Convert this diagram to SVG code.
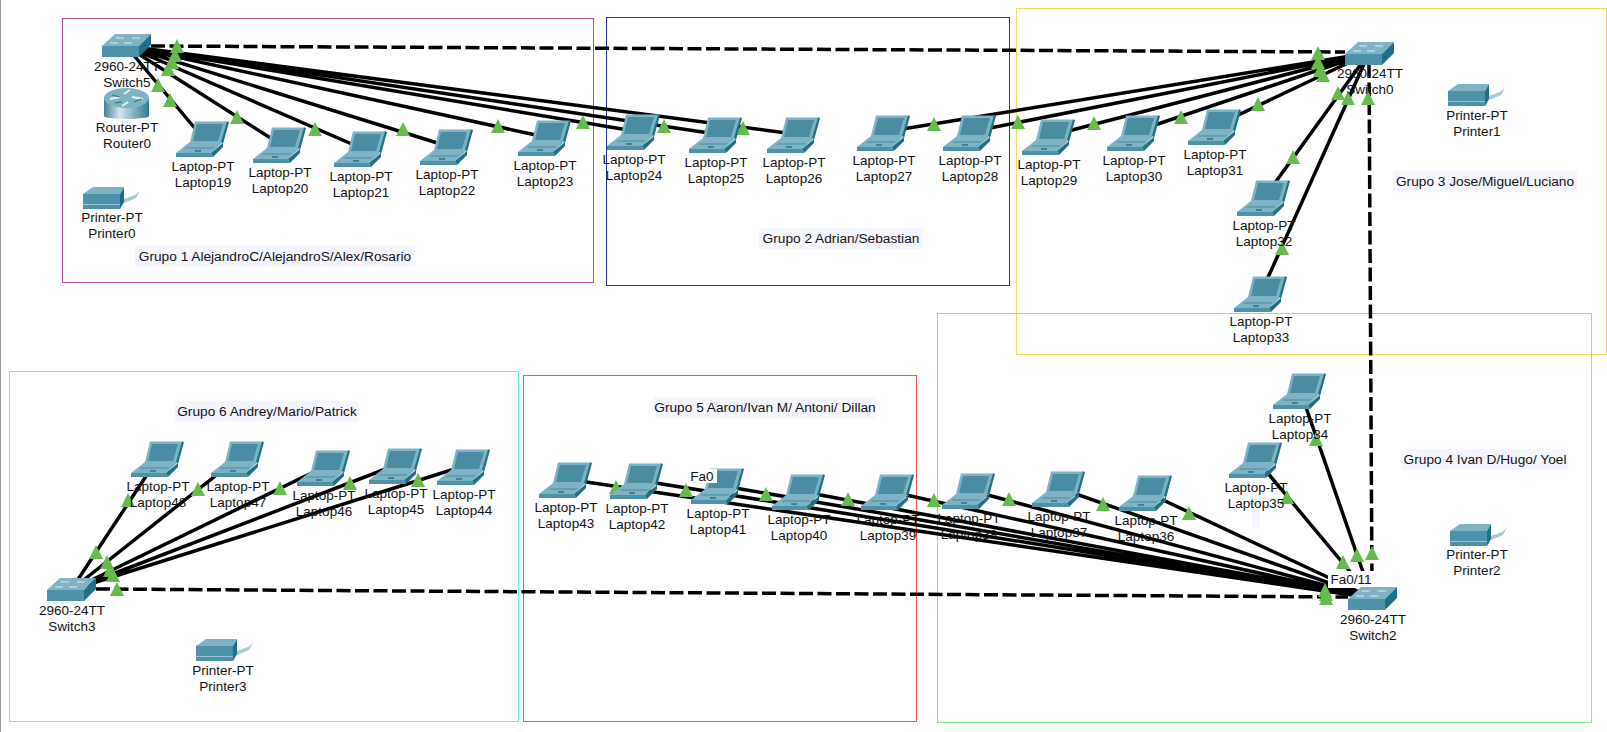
<svg xmlns="http://www.w3.org/2000/svg" width="1607" height="732" viewBox="0 0 1607 732">
<style>
text{font-family:"Liberation Sans",Arial,sans-serif;font-size:13.5px;fill:#111;text-anchor:middle}
.g{font-size:13.7px}
.box{fill:none;stroke-width:1}
.bg{fill:#f6f6ff}
.ln{stroke:#000;stroke-width:3.5;fill:none}
.ds{stroke:#000;stroke-width:3.5;fill:none;stroke-dasharray:14 4.500}
.w{fill:#fff}
</style>
<defs>
<linearGradient id="rg" x1="0" x2="1" y1="0" y2="0">
<stop offset="0" stop-color="#3f8097"/><stop offset=".35" stop-color="#d5e6ec"/><stop offset="1" stop-color="#2f7a92"/>
</linearGradient>
<polygon id="t" points="0,-7 7,7 -7,7" fill="#66bb4d"/>
<g id="laptop">
<polygon points="19,1.500 52,1.500 46,22 14,22" fill="#7fb2c2"/>
<polygon points="21,4 47,4 42,21 17,21" fill="#4a8ca3"/>
<polygon points="51,1.500 53,2 47,24 45,22" fill="#1f6f87"/>
<polygon points="14,22 47,22 35,33 0,33" fill="#7fb2c2"/>
<polygon points="0,33 35,33 37,37 0,37" fill="#4d92aa"/>
<polygon points="35,33 47,23 47,27 37,37" fill="#1f6f87"/>
<polygon points="11,27 39,27 37,29 9,29" fill="#5f9fb3"/>
<rect x="19" y="30" width="6" height="2" fill="#3f8097"/>
</g>
<g id="switch">
<polygon points="0,12 13,0 49,0 37,12" fill="#7fb2c2"/>
<rect x="0" y="12" width="37" height="11" fill="#4d92aa"/>
<polygon points="37,12 49,0 49,11 37,23" fill="#1f6f87"/>
<path d="M14,4h8M30,4h8M8,9h8M22,9h8" stroke="#dfeef2" stroke-width="1"/>
</g>
<g id="printer">
<polygon points="0,7 10,0 41,0 37,7" fill="#7fb2c2"/>
<rect x="0" y="7" width="37" height="15" fill="#4d92aa"/>
<rect x="0" y="17" width="37" height="1" fill="#9cc4d0"/>
<polygon points="37,7 41,0 41,15 37,22" fill="#1f6f87"/>
<polygon points="41,12 52,8 57,4 53,11 41,16" fill="#a9c8d2"/>
</g>
<g id="router">
<rect x="0" y="9" width="45" height="19" fill="url(#rg)"/>
<ellipse cx="22.500" cy="28" rx="22.500" ry="3" fill="url(#rg)"/>
<ellipse cx="22.500" cy="10" rx="22.500" ry="10" fill="#7fb2c2"/>
<path d="M6,11l10,-2M28,9l11,2M26,2l-6,4M24,14l-6,4" stroke="#e7f2f5" stroke-width="1.800"/>
<path d="M8,7l8,2M30,14l8,-3M18,14l-7,1" stroke="#2f6678" stroke-width="1"/>
</g>
</defs>
<rect width="1607" height="732" fill="#fff"/>
<rect x="0" y="0" width="1" height="732" fill="#999"/>

<g id="areas">
<rect class="box" x="62.500" y="18.500" width="531" height="264" stroke="#c04a9c"/>
<rect class="box" x="606.500" y="17.500" width="403" height="268" stroke="#2b30a6"/>
<rect class="box" x="1016.500" y="8.500" width="590" height="346" stroke="#f0dc60"/>
<rect class="box" x="937.500" y="313.500" width="654" height="409" stroke="#7cf27c"/>
<rect class="box" x="9.500" y="371.500" width="509" height="350" stroke="#66eeee"/>
<rect class="box" x="523.500" y="375.500" width="393" height="346" stroke="#ee5555"/>
<rect class="bg" x="1252" y="510" width="8" height="18"/>
</g>

<g id="connectors">
<path class="ln" d="M126,46L203,138M126,46L280,144M126,46L361,148M126,46L447,146M126,46L545,137M126,46L634,131M126,46L716,134M126,46L794,134"/>
<path class="ln" d="M1369,53L884,132M1369,53L970,132M1369,53L1049,136M1369,53L1134,132M1369,53L1215,126M1369,53L1264,198M1369,53L1261,293"/>
<path class="ln" d="M1372,598L1300,390M1372,598L1256,459M1372,598L1146,492M1372,598L1059,488M1372,598L969,490M1372,598L888,491M1372,598L799,491M1372,598L718,485M1372,598L637,480M1372,598L566,479"/>
<path class="ln" d="M71,590L158,458M71,590L238,458M71,590L324,467M71,590L396,465M71,590L464,466"/>
<path class="ds" d="M151,46L1345,52"/>
<path class="ds" d="M1369,64L1372,587"/>
<path class="ds" d="M96,589L1348,597"/>
<g id="link-lights">
<use href="#t" x="177" y="46"/><use href="#t" x="175" y="55"/><use href="#t" x="172" y="62"/><use href="#t" x="168" y="69"/><use href="#t" x="158" y="85"/><use href="#t" x="170" y="100"/><use href="#t" x="237" y="117"/><use href="#t" x="315" y="129"/><use href="#t" x="403" y="129"/><use href="#t" x="498" y="126"/><use href="#t" x="583" y="122"/><use href="#t" x="664" y="126"/><use href="#t" x="743" y="128"/>
<use href="#t" x="934" y="124"/><use href="#t" x="1018" y="122"/><use href="#t" x="1094" y="123"/><use href="#t" x="1181" y="117"/><use href="#t" x="1258" y="104"/><use href="#t" x="1293" y="157"/><use href="#t" x="1282" y="248"/><use href="#t" x="1318" y="53"/><use href="#t" x="1318" y="62"/><use href="#t" x="1320" y="70"/><use href="#t" x="1323" y="75"/><use href="#t" x="1338" y="93"/><use href="#t" x="1348" y="98"/><use href="#t" x="1368" y="98"/>
<use href="#t" x="128" y="500"/><use href="#t" x="198" y="489"/><use href="#t" x="280" y="488"/><use href="#t" x="350" y="483"/><use href="#t" x="418" y="480"/><use href="#t" x="96" y="552"/><use href="#t" x="107" y="562"/><use href="#t" x="110" y="570"/><use href="#t" x="113" y="575"/><use href="#t" x="117" y="589"/>
<use href="#t" x="616" y="487"/><use href="#t" x="686" y="490"/><use href="#t" x="766" y="494"/><use href="#t" x="848" y="499"/><use href="#t" x="934" y="500"/><use href="#t" x="1009" y="499"/><use href="#t" x="1103" y="504"/><use href="#t" x="1189" y="513"/><use href="#t" x="1316" y="439"/><use href="#t" x="1287" y="497"/><use href="#t" x="1343" y="562"/><use href="#t" x="1357" y="555"/><use href="#t" x="1372" y="553"/><use href="#t" x="1325" y="590"/><use href="#t" x="1326" y="594"/><use href="#t" x="1326" y="598"/>
</g>
</g>

<g id="port-labels">
<rect class="w" x="1328" y="571" width="50" height="17"/><text x="1351" y="584">Fa0/11</text>
</g>

<g id="Switch5" transform="translate(102,34)"><use href="#switch"/><text x="25" y="37">2960-24TT</text><text x="25" y="53">Switch5</text></g>
<g id="Switch0" transform="translate(1345,42)"><use href="#switch"/><text x="25" y="36">2960-24TT</text><text x="25" y="52">Switch0</text></g>
<g id="Switch2" transform="translate(1348,587)"><use href="#switch"/><text x="25" y="37">2960-24TT</text><text x="25" y="53">Switch2</text></g>
<g id="Switch3" transform="translate(47,578)"><use href="#switch"/><text x="25" y="37">2960-24TT</text><text x="25" y="53">Switch3</text></g>
<g id="Router0" transform="translate(104,88)"><use href="#router"/><text x="23" y="44">Router-PT</text><text x="23" y="60">Router0</text></g>
<g id="Printer0" transform="translate(83,187)"><use href="#printer"/><text x="29" y="35">Printer-PT</text><text x="29" y="51">Printer0</text></g>
<g id="Printer1" transform="translate(1448,84)"><use href="#printer"/><text x="29" y="36">Printer-PT</text><text x="29" y="52">Printer1</text></g>
<g id="Printer2" transform="translate(1450,524)"><use href="#printer"/><text x="27" y="35">Printer-PT</text><text x="27" y="51">Printer2</text></g>
<g id="Printer3" transform="translate(196,639)"><use href="#printer"/><text x="27" y="36">Printer-PT</text><text x="27" y="52">Printer3</text></g>

<g id="Laptop19" transform="translate(176,120)"><use href="#laptop"/><text x="27" y="51">Laptop-PT</text><text x="27" y="67">Laptop19</text></g>
<g id="Laptop20" transform="translate(253,126)"><use href="#laptop"/><text x="27" y="51">Laptop-PT</text><text x="27" y="67">Laptop20</text></g>
<g id="Laptop21" transform="translate(334,130)"><use href="#laptop"/><text x="27" y="51">Laptop-PT</text><text x="27" y="67">Laptop21</text></g>
<g id="Laptop22" transform="translate(420,128)"><use href="#laptop"/><text x="27" y="51">Laptop-PT</text><text x="27" y="67">Laptop22</text></g>
<g id="Laptop23" transform="translate(518,119)"><use href="#laptop"/><text x="27" y="51">Laptop-PT</text><text x="27" y="67">Laptop23</text></g>
<g id="Laptop24" transform="translate(607,113)"><use href="#laptop"/><text x="27" y="51">Laptop-PT</text><text x="27" y="67">Laptop24</text></g>
<g id="Laptop25" transform="translate(689,116)"><use href="#laptop"/><text x="27" y="51">Laptop-PT</text><text x="27" y="67">Laptop25</text></g>
<g id="Laptop26" transform="translate(767,116)"><use href="#laptop"/><text x="27" y="51">Laptop-PT</text><text x="27" y="67">Laptop26</text></g>
<g id="Laptop27" transform="translate(857,114)"><use href="#laptop"/><text x="27" y="51">Laptop-PT</text><text x="27" y="67">Laptop27</text></g>
<g id="Laptop28" transform="translate(943,114)"><use href="#laptop"/><text x="27" y="51">Laptop-PT</text><text x="27" y="67">Laptop28</text></g>
<g id="Laptop29" transform="translate(1022,118)"><use href="#laptop"/><text x="27" y="51">Laptop-PT</text><text x="27" y="67">Laptop29</text></g>
<g id="Laptop30" transform="translate(1107,114)"><use href="#laptop"/><text x="27" y="51">Laptop-PT</text><text x="27" y="67">Laptop30</text></g>
<g id="Laptop31" transform="translate(1188,108)"><use href="#laptop"/><text x="27" y="51">Laptop-PT</text><text x="27" y="67">Laptop31</text></g>
<g id="Laptop32" transform="translate(1237,179)"><use href="#laptop"/><text x="27" y="51">Laptop-PT</text><text x="27" y="67">Laptop32</text></g>
<g id="Laptop33" transform="translate(1234,275)"><use href="#laptop"/><text x="27" y="51">Laptop-PT</text><text x="27" y="67">Laptop33</text></g>
<g id="Laptop34" transform="translate(1273,372)"><use href="#laptop"/><text x="27" y="51">Laptop-PT</text><text x="27" y="67">Laptop34</text></g>
<g id="Laptop35" transform="translate(1229,441)"><use href="#laptop"/><text x="27" y="51">Laptop-PT</text><text x="27" y="67">Laptop35</text></g>
<g id="Laptop36" transform="translate(1119,474)"><use href="#laptop"/><text x="27" y="51">Laptop-PT</text><text x="27" y="67">Laptop36</text></g>
<g id="Laptop37" transform="translate(1032,470)"><use href="#laptop"/><text x="27" y="51">Laptop-PT</text><text x="27" y="67">Laptop37</text></g>
<g id="Laptop38" transform="translate(942,472)"><use href="#laptop"/><text x="27" y="51">Laptop-PT</text><text x="27" y="67">Laptop38</text></g>
<g id="Laptop39" transform="translate(861,473)"><use href="#laptop"/><text x="27" y="51">Laptop-PT</text><text x="27" y="67">Laptop39</text></g>
<g id="Laptop40" transform="translate(772,473)"><use href="#laptop"/><text x="27" y="51">Laptop-PT</text><text x="27" y="67">Laptop40</text></g>
<g id="Laptop41" transform="translate(691,467)"><use href="#laptop"/><text x="27" y="51">Laptop-PT</text><text x="27" y="67">Laptop41</text></g>
<g id="Laptop42" transform="translate(610,462)"><use href="#laptop"/><text x="27" y="51">Laptop-PT</text><text x="27" y="67">Laptop42</text></g>
<g id="Laptop43" transform="translate(539,461)"><use href="#laptop"/><text x="27" y="51">Laptop-PT</text><text x="27" y="67">Laptop43</text></g>
<g id="Laptop44" transform="translate(437,448)"><use href="#laptop"/><text x="27" y="51">Laptop-PT</text><text x="27" y="67">Laptop44</text></g>
<g id="Laptop45" transform="translate(369,447)"><use href="#laptop"/><text x="27" y="51">Laptop-PT</text><text x="27" y="67">Laptop45</text></g>
<g id="Laptop46" transform="translate(297,449)"><use href="#laptop"/><text x="27" y="51">Laptop-PT</text><text x="27" y="67">Laptop46</text></g>
<g id="Laptop47" transform="translate(211,440)"><use href="#laptop"/><text x="27" y="51">Laptop-PT</text><text x="27" y="67">Laptop47</text></g>
<g id="Laptop48" transform="translate(131,440)"><use href="#laptop"/><text x="27" y="51">Laptop-PT</text><text x="27" y="67">Laptop48</text></g>

<g id="fa0-label">
<rect class="w" x="690" y="469" width="27" height="14"/><text x="702" y="481">Fa0</text>
</g>

<g id="group-labels">
<rect class="bg" x="135" y="246" width="280" height="21"/><text class="g" x="275" y="261">Grupo 1 AlejandroC/AlejandroS/Alex/Rosario</text>
<rect class="bg" x="759" y="228" width="164" height="21"/><text class="g" x="841" y="243">Grupo 2 Adrian/Sebastian</text>
<rect class="bg" x="1393" y="171" width="184" height="21"/><text class="g" x="1485" y="186">Grupo 3 Jose/Miguel/Luciano</text>
<rect class="bg" x="1401" y="449" width="167" height="21"/><text class="g" x="1485" y="464">Grupo 4 Ivan D/Hugo/ Yoel</text>
<rect class="bg" x="654" y="397" width="222" height="21"/><text class="g" x="765" y="412">Grupo 5 Aaron/Ivan M/ Antoni/ Dillan</text>
<rect class="bg" x="175" y="401" width="184" height="21"/><text class="g" x="267" y="416">Grupo 6 Andrey/Mario/Patrick</text>
</g>
</svg>
